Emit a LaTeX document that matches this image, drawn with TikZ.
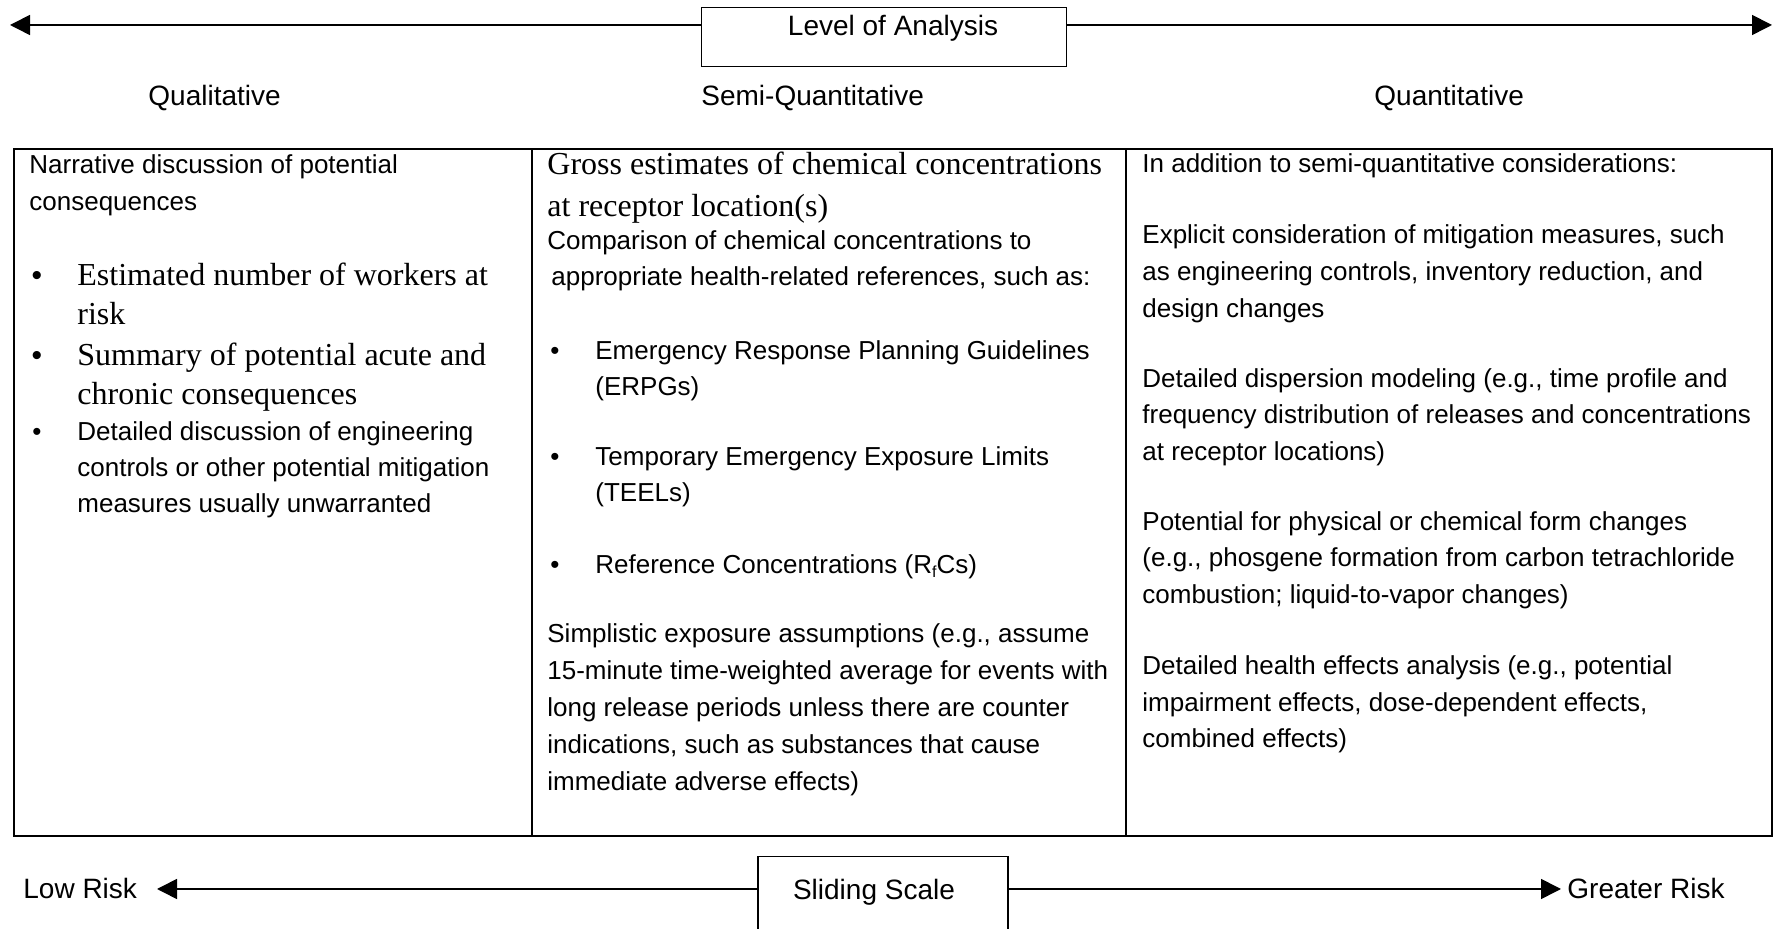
\documentclass[tikz,border=0pt]{standalone}
\usepackage{fontspec}
\setmainfont{Liberation Sans}
\newfontfamily\tnr{Liberation Serif}
\usetikzlibrary{arrows.meta}
\begin{document}
\begin{tikzpicture}[x=0.5pt,y=-0.5pt,
  ar/.style={font=\fontsize{13}{15}\selectfont, inner sep=0pt, anchor=base west},
  tr/.style={font=\tnr\fontsize{16}{18}\selectfont, inner sep=0pt, anchor=base west},
  bul/.style={font=\fontsize{13}{15}\selectfont, inner sep=0pt, anchor=base},
  tbul/.style={font=\fontsize{15}{17}\selectfont, inner sep=0pt, anchor=base},
  lbl/.style={font=\fontsize{14}{16}\selectfont, inner sep=0pt, anchor=base west},
  frame/.style={draw, line width=0.75pt, inner sep=0pt, font=\fontsize{14}{16}\selectfont},
  arr/.style={line width=0.8pt, -{Triangle[length=10pt,width=10pt]}},
  tbl/.style={line width=1pt},
  div/.style={line width=0.75pt},
]
\useasboundingbox (0,0) rectangle (1774,929);

% ---------- top scale ----------
\node[frame, minimum width=182.5pt, text height=14pt, text depth=15.5pt, anchor=north] (loa) at (884,7) {\hspace*{9pt}Level of Analysis};
\coordinate (tipL) at (10,25);
\coordinate (tipR) at (1772,25);
\draw[arr] (loa.west |- tipL) -- (tipL);
\draw[arr] (loa.east |- tipR) -- (tipR);

\node[lbl] (qual) at (148,106) {Qualitative};
\node[lbl] (semi) at (701,106) {Semi-Quantitative};
\node[lbl] (quant) at (1374,106) {Quantitative};

% ---------- table ----------
\draw[tbl] (14,149) rectangle (1772,836);
\draw[div] (532,149) -- (532,836);
\draw[div] (1126,149) -- (1126,836);

% left column
\node[ar] (a1) at (29,174) {Narrative discussion of potential};
\node[ar] (a2) at (29,211) {consequences};
\node[tbul] (ab1) at (37,286) {•};
\node[tr] (a3) at (77,286) {Estimated number of workers at};
\node[tr] (a4) at (77,325) {risk};
\node[tbul] (ab2) at (37,366) {•};
\node[tr] (a5) at (77,366) {Summary of potential acute and};
\node[tr] (a6) at (77,405) {chronic consequences};
\node[bul] (ab3) at (37,441) {•};
\node[ar] (a7) at (77,441) {Detailed discussion of engineering};
\node[ar] (a8) at (77,477) {controls or other potential mitigation};
\node[ar] (a9) at (77,513) {measures usually unwarranted};

% middle column
\node[tr] (b1) at (547,175) {Gross estimates of chemical concentrations};
\node[tr] (b2) at (547,217) {at receptor location(s)};
\node[ar] (b3) at (547,250) {Comparison of chemical concentrations to};
\node[ar] (b4) at (551,286) {appropriate health-related references, such as:};
\node[bul] (bb1) at (555,360) {•};
\node[ar] (b5) at (595,360) {Emergency Response Planning Guidelines};
\node[ar] (b6) at (595,396) {(ERPGs)};
\node[bul] (bb2) at (555,466) {•};
\node[ar] (b7) at (595,466) {Temporary Emergency Exposure Limits};
\node[ar] (b8) at (595,502) {(TEELs)};
\node[bul] (bb3) at (555,574) {•};
\node[ar] (b9) at (595,574) {Reference Concentrations (R\raisebox{-0.12em}{\fontsize{8}{8}\selectfont f}Cs)};
\node[ar] (b10) at (547,643) {Simplistic exposure assumptions (e.g., assume};
\node[ar] (b11) at (547,680) {15-minute time-weighted average for events with};
\node[ar] (b12) at (547,717) {long release periods unless there are counter};
\node[ar] (b13) at (547,754) {indications, such as substances that cause};
\node[ar] (b14) at (547,791) {immediate adverse effects)};

% right column
\node[ar] (c1) at (1142,173) {In addition to semi-quantitative considerations:};
\node[ar] (c2) at (1142,244) {Explicit consideration of mitigation measures, such};
\node[ar] (c3) at (1142,281) {as engineering controls, inventory reduction, and};
\node[ar] (c4) at (1142,318) {design changes};
\node[ar] (c5) at (1142,388) {Detailed dispersion modeling (e.g., time profile and};
\node[ar] (c6) at (1142,424) {frequency distribution of releases and concentrations};
\node[ar] (c7) at (1142,461) {at receptor locations)};
\node[ar] (c8) at (1142,531) {Potential for physical or chemical form changes};
\node[ar] (c9) at (1142,567) {(e.g., phosgene formation from carbon tetrachloride};
\node[ar] (c10) at (1142,604) {combustion; liquid-to-vapor changes)};
\node[ar] (c11) at (1142,675) {Detailed health effects analysis (e.g., potential};
\node[ar] (c12) at (1142,712) {impairment effects, dose-dependent effects,};
\node[ar] (c13) at (1142,748) {combined effects)};

% ---------- bottom scale ----------
\node[frame, minimum width=125pt, text height=21.5pt, text depth=20pt, anchor=north] (ss) at (883,856) {Sliding Scale\hspace*{9pt}};
\node[lbl] (low) at (23,899) {Low Risk};
\node[lbl] (high) at (1567,899) {Greater Risk};
\coordinate (tipLow) at (157,889);
\coordinate (tipHigh) at (1561,889);
\draw[arr] (ss.west |- tipLow) -- (tipLow);
\draw[arr] (ss.east |- tipHigh) -- (tipHigh);
\end{tikzpicture}
\end{document}
